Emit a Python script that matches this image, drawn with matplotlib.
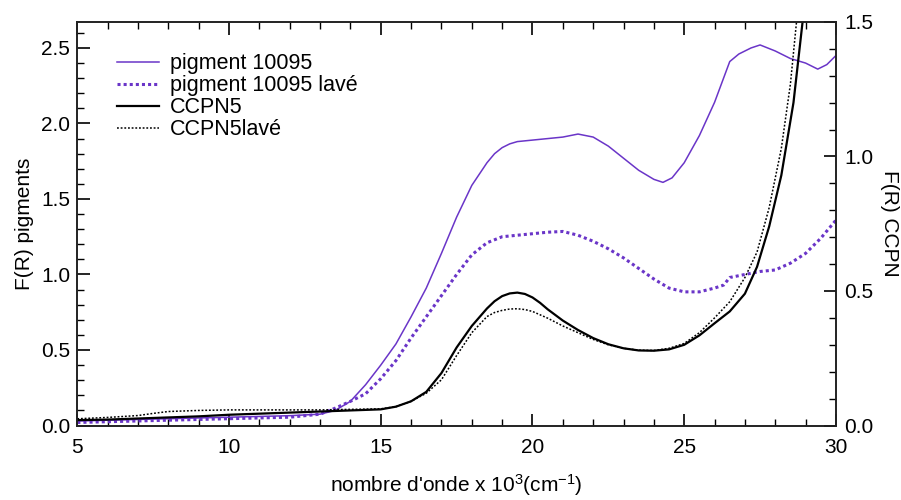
import matplotlib
matplotlib.use("Agg")
import matplotlib.pyplot as plt
from matplotlib.ticker import MultipleLocator, FormatStrFormatter

plt.rcParams['font.family'] = ['Liberation Sans', 'DejaVu Sans']
plt.rcParams['mathtext.fontset'] = 'custom'
plt.rcParams['mathtext.rm'] = 'Liberation Sans'
plt.rcParams['mathtext.it'] = 'Liberation Sans'
plt.rcParams['mathtext.bf'] = 'Liberation Sans'

# wavenumber (x 10^3 cm^-1)
pig_x = [5, 6, 7, 8, 9, 10, 11, 12, 13, 13.5, 14, 14.5, 15, 15.5, 16, 16.5, 17, 17.5,
         18, 18.5, 18.75, 19, 19.25, 19.5, 20, 20.5, 21, 21.5, 22, 22.5, 23, 23.5, 24,
         24.3, 24.6, 25, 25.5, 26, 26.5, 26.8, 27.2, 27.5, 28, 28.5, 29, 29.4, 29.7, 30]
pig_y = [0.03, 0.035, 0.04, 0.045, 0.05, 0.055, 0.06, 0.065, 0.075, 0.10, 0.16, 0.27,
         0.40, 0.54, 0.72, 0.91, 1.14, 1.38, 1.59, 1.74, 1.80, 1.84, 1.865, 1.88, 1.89,
         1.90, 1.91, 1.93, 1.91, 1.85, 1.77, 1.69, 1.63, 1.61, 1.64, 1.74, 1.92, 2.14,
         2.41, 2.46, 2.50, 2.52, 2.48, 2.43, 2.40, 2.36, 2.39, 2.45]

pigl_x = [5, 6, 7, 8, 9, 10, 11, 12, 13, 13.5, 14, 14.5, 15, 15.5, 16, 16.5, 17, 17.5,
          18, 18.5, 19, 19.5, 20, 20.5, 21, 21.5, 22, 22.5, 23, 23.5, 24, 24.5, 25,
          25.5, 26, 26.3, 26.5, 27, 27.5, 28, 28.5, 29, 29.5, 30]
pigl_y = [0.02, 0.025, 0.03, 0.035, 0.04, 0.045, 0.05, 0.055, 0.075, 0.115, 0.16, 0.21,
          0.31, 0.43, 0.58, 0.72, 0.86, 1.00, 1.13, 1.21, 1.25, 1.26, 1.27, 1.28, 1.285,
          1.26, 1.22, 1.17, 1.11, 1.04, 0.97, 0.91, 0.885, 0.885, 0.91, 0.93, 0.98,
          1.00, 1.02, 1.03, 1.075, 1.14, 1.24, 1.36]

ccpn_x = [5, 6, 7, 8, 9, 10, 11, 12, 13, 14, 15, 15.5, 16, 16.5, 17, 17.5, 18, 18.5,
          18.75, 19, 19.25, 19.5, 19.75, 20, 20.25, 20.5, 21, 21.5, 22, 22.5, 23, 23.5,
          24, 24.5, 25, 25.5, 26, 26.5, 27, 27.4, 27.8, 28.2, 28.6, 28.9, 29.0]
ccpn_y = [0.02, 0.022, 0.026, 0.03, 0.034, 0.04, 0.044, 0.048, 0.052, 0.056, 0.06,
          0.07, 0.09, 0.125, 0.195, 0.29, 0.37, 0.435, 0.462, 0.481, 0.491, 0.494,
          0.489, 0.476, 0.456, 0.432, 0.39, 0.355, 0.325, 0.302, 0.287, 0.279, 0.278,
          0.283, 0.30, 0.335, 0.38, 0.424, 0.49, 0.59, 0.74, 0.93, 1.2, 1.5, 1.6]

ccpnl_x = [5, 6, 7, 7.5, 8, 9, 10, 11, 12, 13, 14, 15, 15.5, 16, 16.5, 17, 17.5, 18,
           18.5, 18.75, 19, 19.25, 19.5, 19.75, 20, 20.5, 21, 21.5, 22, 22.5, 23, 23.5,
           24, 24.5, 25, 25.5, 26, 26.5, 27, 27.4, 27.8, 28.2, 28.5, 28.7, 28.8]
ccpnl_y = [0.025, 0.03, 0.037, 0.045, 0.052, 0.056, 0.058, 0.058, 0.058, 0.058, 0.06,
           0.062, 0.07, 0.09, 0.12, 0.17, 0.26, 0.345, 0.405, 0.42, 0.428, 0.433, 0.434,
           0.431, 0.424, 0.399, 0.37, 0.345, 0.32, 0.30, 0.287, 0.28, 0.279, 0.287,
           0.305, 0.345, 0.40, 0.46, 0.55, 0.645, 0.81, 1.03, 1.27, 1.5, 1.6]

labels = ["pigment 10095", "pigment 10095 lavé", "CCPN5", "CCPN5lavé"]
purple = "#6a35c8"
FS = 15

fig = plt.figure(figsize=(9.01, 5.0), dpi=100)
ax = fig.add_axes([0.0858, 0.149, 0.842, 0.807])
ax2 = ax.twinx()

l1, = ax.plot(pig_x, pig_y, color=purple, lw=1.1, label=labels[0])
l2, = ax.plot(pigl_x, pigl_y, color=purple, lw=2.2, linestyle=(0, (1, 1)), label=labels[1])
l3, = ax2.plot(ccpn_x, ccpn_y, color="black", lw=1.6, label=labels[2])
l4, = ax2.plot(ccpnl_x, ccpnl_y, color="black", lw=1.1, linestyle=(0, (1.2, 1.2)), label=labels[3])

ax.set_xlim(5, 30)
ax.set_ylim(0, 2.672)
ax2.set_ylim(0, 1.5)

ax.xaxis.set_major_locator(MultipleLocator(5))
ax.xaxis.set_minor_locator(MultipleLocator(1))
ax.yaxis.set_major_locator(MultipleLocator(0.5))
ax.yaxis.set_minor_locator(MultipleLocator(0.1))
ax2.yaxis.set_major_locator(MultipleLocator(0.5))
ax2.yaxis.set_minor_locator(MultipleLocator(0.1))

ax.yaxis.set_major_formatter(FormatStrFormatter('%.1f'))
ax2.yaxis.set_major_formatter(FormatStrFormatter('%.1f'))

ax.tick_params(axis='x', which='both', direction='in', top=True, labelsize=FS, pad=9)
ax.tick_params(axis='y', which='both', direction='in', right=False, labelsize=FS, pad=5)
ax.tick_params(which='major', length=9, width=1.2)
ax.tick_params(which='minor', length=5, width=1.0)
ax2.tick_params(axis='y', which='both', direction='in', labelsize=FS, pad=6)
ax2.tick_params(which='major', length=9, width=1.2)
ax2.tick_params(which='minor', length=5, width=1.0)

for a in (ax, ax2):
    for s in a.spines.values():
        s.set_linewidth(1.2)
        s.set_color("#222222")

ax.set_ylabel("F(R) pigments", fontsize=FS, labelpad=5)
ax2.set_ylabel("F(R) CCPN", fontsize=FS, rotation=270, labelpad=18)
ax.set_xlabel(r"nombre d'onde x 10$^{3}$(cm$^{-1}$)", fontsize=15, labelpad=11)

ax.legend(handles=[l1, l2, l3, l4], loc='upper left', bbox_to_anchor=(0.035, 0.955),
          frameon=False, fontsize=15.5, handlelength=1.95, handletextpad=0.5,
          labelspacing=0.05, borderaxespad=0.2)

fig.savefig("out.png", dpi=100)
